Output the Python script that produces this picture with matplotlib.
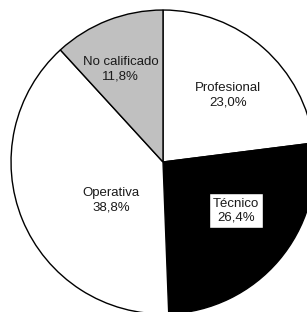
import matplotlib.pyplot as plt

categories = ["Profesional", "Técnico", "Operativa", "No calificado"]
shares = [23.0, 26.4, 38.8, 11.8]
colors = ["white", "black", "white", "#c0c0c0"]
# label centres (data units, radius 1 = pie)
label_xy = [(0.43, 0.44), (0.48, -0.32), (-0.34, -0.25), (-0.28, 0.61)]

plt.rcParams["font.family"] = ["Liberation Sans", "DejaVu Sans"]

fig = plt.figure(figsize=(3.07, 3.12), dpi=100)
ax = fig.add_axes([0, 0, 1, 1])

ax.pie(shares, colors=colors, startangle=90, counterclock=False, radius=1,
       wedgeprops=dict(edgecolor="black", linewidth=1.0))

for name, val, (x, y) in zip(categories, shares, label_xy):
    txt = f"{name}\n{val:.1f}%".replace(".", ",")
    box = None
    if name == "Técnico":
        box = dict(boxstyle="square,pad=0.32", facecolor="white", edgecolor="black", linewidth=1.0)
    ax.text(x, y, txt, ha="center", va="center", fontsize=9.5, color="#1a1a1a",
            linespacing=1.25, bbox=box)

ax.set_xlim(-1.072, 0.947)
ax.set_ylim(-0.987, 1.066)
ax.set_aspect("equal")
ax.axis("off")

fig.savefig("out.png", dpi=100, facecolor="white")
